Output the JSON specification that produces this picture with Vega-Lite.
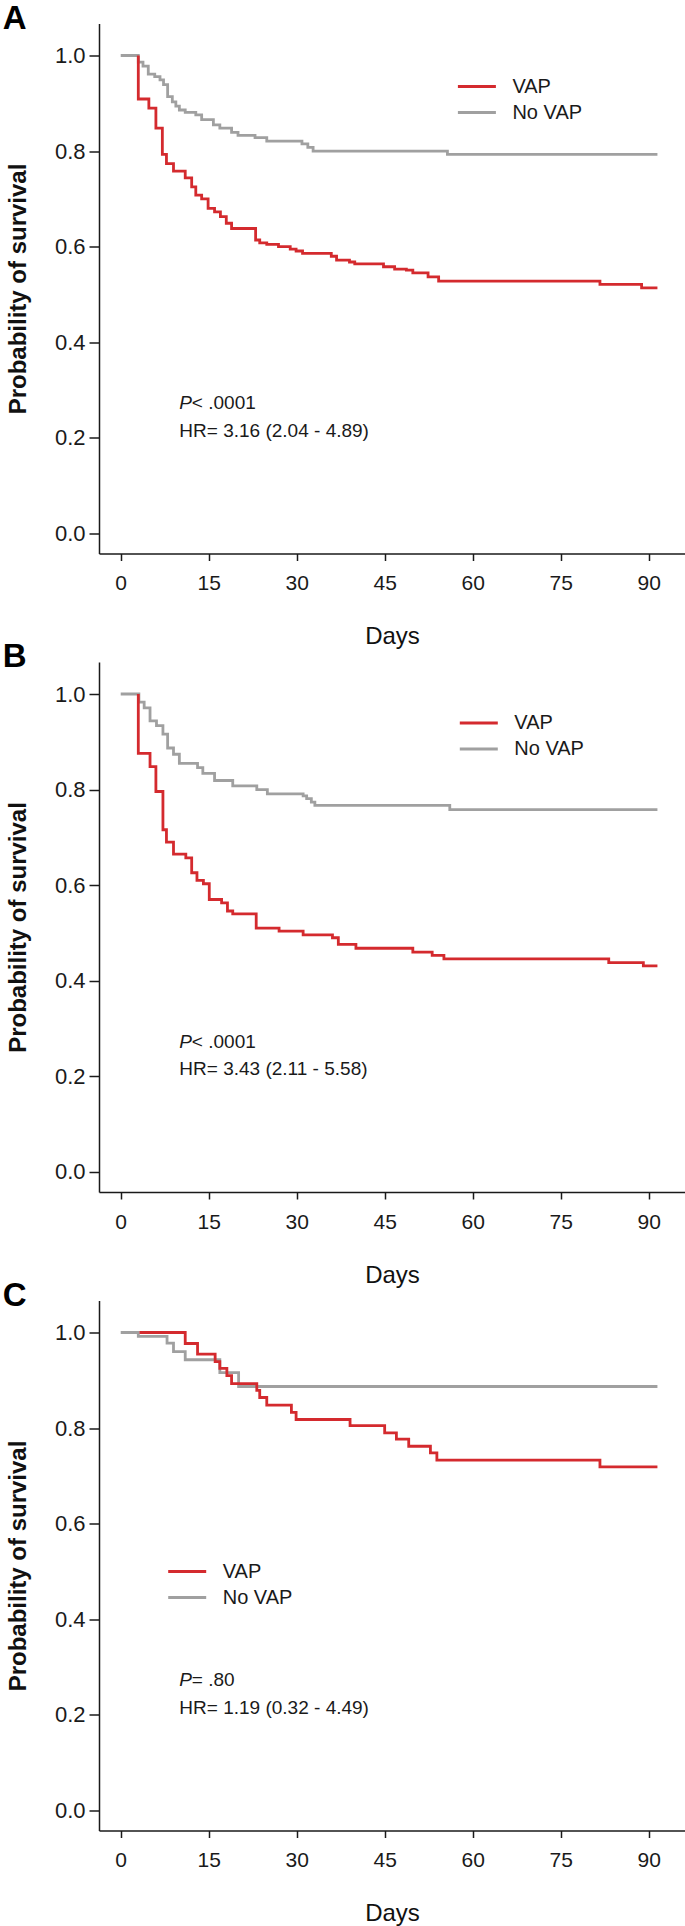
{
  "$schema": "https://vega.github.io/schema/vega-lite/v6.json",
  "padding": {"left": 2, "top": 2.5, "right": 2, "bottom": 0},
  "bounds": "flush",
  "spacing": 108.5,
  "config": {
    "font": "Liberation Sans",
    "view": {"stroke": null},
    "axis": {"grid": false, "domainColor": "#1a1a1a", "domainWidth": 1.5, "tickColor": "#1a1a1a", "tickWidth": 1.5, "labelFontSize": 21, "labelColor": "#1a1a1a", "labelFont": "Liberation Sans", "titleFont": "Liberation Sans", "titleColor": "#111111"},
    "axisX": {"tickSize": 7, "labelPadding": 12, "titleFontSize": 24, "titleFontWeight": "normal", "titlePadding": 31},
    "axisY": {"tickSize": 10, "labelPadding": 4, "labelFontSize": 22, "titleFontSize": 24, "titleFontWeight": "bold", "titlePadding": 23.6},
    "legend": {"symbolType": "M-1.9,0H1.9", "symbolSize": 400, "symbolStrokeWidth": 3, "labelFontSize": 20, "labelFont": "Liberation Sans", "labelColor": "#1a1a1a", "labelOffset": 24, "rowPadding": 4, "padding": 0},
    "title": {"fontSize": 33, "fontWeight": "bold", "anchor": "start", "frame": "bounds", "offset": -12, "dx": -4, "color": "#000000", "font": "Liberation Sans"}
  },
  "datasets": {
    "km": [
      {"panel": "A", "group": "No VAP", "day": 0, "surv": 1.0},
      {"panel": "A", "group": "No VAP", "day": 3.0, "surv": 0.986},
      {"panel": "A", "group": "No VAP", "day": 3.8, "surv": 0.978},
      {"panel": "A", "group": "No VAP", "day": 4.7, "surv": 0.961},
      {"panel": "A", "group": "No VAP", "day": 5.8, "surv": 0.956},
      {"panel": "A", "group": "No VAP", "day": 6.7, "surv": 0.949},
      {"panel": "A", "group": "No VAP", "day": 7.3, "surv": 0.939},
      {"panel": "A", "group": "No VAP", "day": 8.0, "surv": 0.914},
      {"panel": "A", "group": "No VAP", "day": 8.8, "surv": 0.903},
      {"panel": "A", "group": "No VAP", "day": 9.4, "surv": 0.894},
      {"panel": "A", "group": "No VAP", "day": 10.0, "surv": 0.886},
      {"panel": "A", "group": "No VAP", "day": 11.0, "surv": 0.881},
      {"panel": "A", "group": "No VAP", "day": 12.8, "surv": 0.876},
      {"panel": "A", "group": "No VAP", "day": 13.8, "surv": 0.866},
      {"panel": "A", "group": "No VAP", "day": 15.8, "surv": 0.855},
      {"panel": "A", "group": "No VAP", "day": 16.9, "surv": 0.848},
      {"panel": "A", "group": "No VAP", "day": 18.9, "surv": 0.839},
      {"panel": "A", "group": "No VAP", "day": 20.0, "surv": 0.833},
      {"panel": "A", "group": "No VAP", "day": 22.9, "surv": 0.828},
      {"panel": "A", "group": "No VAP", "day": 24.9, "surv": 0.821},
      {"panel": "A", "group": "No VAP", "day": 30.9, "surv": 0.815},
      {"panel": "A", "group": "No VAP", "day": 31.9, "surv": 0.808},
      {"panel": "A", "group": "No VAP", "day": 32.8, "surv": 0.8},
      {"panel": "A", "group": "No VAP", "day": 55.7, "surv": 0.793},
      {"panel": "A", "group": "No VAP", "day": 91.5, "surv": 0.793},
      {"panel": "A", "group": "VAP", "day": 3.0, "surv": 1.0},
      {"panel": "A", "group": "VAP", "day": 3.0, "surv": 0.909},
      {"panel": "A", "group": "VAP", "day": 4.8, "surv": 0.89},
      {"panel": "A", "group": "VAP", "day": 6.0, "surv": 0.848},
      {"panel": "A", "group": "VAP", "day": 7.1, "surv": 0.793},
      {"panel": "A", "group": "VAP", "day": 7.8, "surv": 0.774},
      {"panel": "A", "group": "VAP", "day": 9.0, "surv": 0.758},
      {"panel": "A", "group": "VAP", "day": 11.0, "surv": 0.744},
      {"panel": "A", "group": "VAP", "day": 12.1, "surv": 0.725},
      {"panel": "A", "group": "VAP", "day": 12.8, "surv": 0.708},
      {"panel": "A", "group": "VAP", "day": 13.8, "surv": 0.7},
      {"panel": "A", "group": "VAP", "day": 14.9, "surv": 0.68},
      {"panel": "A", "group": "VAP", "day": 16.0, "surv": 0.673},
      {"panel": "A", "group": "VAP", "day": 17.0, "surv": 0.663},
      {"panel": "A", "group": "VAP", "day": 18.0, "surv": 0.649},
      {"panel": "A", "group": "VAP", "day": 18.9, "surv": 0.638},
      {"panel": "A", "group": "VAP", "day": 23.0, "surv": 0.614},
      {"panel": "A", "group": "VAP", "day": 23.7, "surv": 0.608},
      {"panel": "A", "group": "VAP", "day": 24.9, "surv": 0.605},
      {"panel": "A", "group": "VAP", "day": 26.9, "surv": 0.6},
      {"panel": "A", "group": "VAP", "day": 28.9, "surv": 0.595},
      {"panel": "A", "group": "VAP", "day": 29.9, "surv": 0.591},
      {"panel": "A", "group": "VAP", "day": 31.0, "surv": 0.586},
      {"panel": "A", "group": "VAP", "day": 35.9, "surv": 0.58},
      {"panel": "A", "group": "VAP", "day": 36.8, "surv": 0.572},
      {"panel": "A", "group": "VAP", "day": 39.0, "surv": 0.568},
      {"panel": "A", "group": "VAP", "day": 39.9, "surv": 0.564},
      {"panel": "A", "group": "VAP", "day": 44.8, "surv": 0.558},
      {"panel": "A", "group": "VAP", "day": 46.7, "surv": 0.553},
      {"panel": "A", "group": "VAP", "day": 48.7, "surv": 0.551},
      {"panel": "A", "group": "VAP", "day": 49.8, "surv": 0.545},
      {"panel": "A", "group": "VAP", "day": 52.4, "surv": 0.537},
      {"panel": "A", "group": "VAP", "day": 54.2, "surv": 0.528},
      {"panel": "A", "group": "VAP", "day": 81.7, "surv": 0.521},
      {"panel": "A", "group": "VAP", "day": 88.8, "surv": 0.514},
      {"panel": "A", "group": "VAP", "day": 91.5, "surv": 0.514},
      {"panel": "B", "group": "No VAP", "day": 0, "surv": 1.0},
      {"panel": "B", "group": "No VAP", "day": 3.1, "surv": 0.983},
      {"panel": "B", "group": "No VAP", "day": 4.0, "surv": 0.971},
      {"panel": "B", "group": "No VAP", "day": 5.0, "surv": 0.944},
      {"panel": "B", "group": "No VAP", "day": 6.1, "surv": 0.934},
      {"panel": "B", "group": "No VAP", "day": 7.2, "surv": 0.916},
      {"panel": "B", "group": "No VAP", "day": 8.0, "surv": 0.887},
      {"panel": "B", "group": "No VAP", "day": 9.0, "surv": 0.874},
      {"panel": "B", "group": "No VAP", "day": 10.0, "surv": 0.855},
      {"panel": "B", "group": "No VAP", "day": 13.1, "surv": 0.846},
      {"panel": "B", "group": "No VAP", "day": 14.0, "surv": 0.834},
      {"panel": "B", "group": "No VAP", "day": 16.0, "surv": 0.819},
      {"panel": "B", "group": "No VAP", "day": 19.1, "surv": 0.808},
      {"panel": "B", "group": "No VAP", "day": 23.2, "surv": 0.8},
      {"panel": "B", "group": "No VAP", "day": 25.0, "surv": 0.791},
      {"panel": "B", "group": "No VAP", "day": 31.1, "surv": 0.787},
      {"panel": "B", "group": "No VAP", "day": 31.7, "surv": 0.781},
      {"panel": "B", "group": "No VAP", "day": 32.5, "surv": 0.774},
      {"panel": "B", "group": "No VAP", "day": 33.1, "surv": 0.767},
      {"panel": "B", "group": "No VAP", "day": 56.1, "surv": 0.758},
      {"panel": "B", "group": "No VAP", "day": 91.5, "surv": 0.758},
      {"panel": "B", "group": "VAP", "day": 3.0, "surv": 1.0},
      {"panel": "B", "group": "VAP", "day": 3.0, "surv": 0.876},
      {"panel": "B", "group": "VAP", "day": 5.0, "surv": 0.848},
      {"panel": "B", "group": "VAP", "day": 6.0, "surv": 0.796},
      {"panel": "B", "group": "VAP", "day": 7.2, "surv": 0.716},
      {"panel": "B", "group": "VAP", "day": 7.8, "surv": 0.69},
      {"panel": "B", "group": "VAP", "day": 9.0, "surv": 0.665},
      {"panel": "B", "group": "VAP", "day": 11.1, "surv": 0.657},
      {"panel": "B", "group": "VAP", "day": 12.1, "surv": 0.626},
      {"panel": "B", "group": "VAP", "day": 13.0, "surv": 0.61},
      {"panel": "B", "group": "VAP", "day": 14.1, "surv": 0.603},
      {"panel": "B", "group": "VAP", "day": 15.1, "surv": 0.57},
      {"panel": "B", "group": "VAP", "day": 17.2, "surv": 0.563},
      {"panel": "B", "group": "VAP", "day": 18.2, "surv": 0.546},
      {"panel": "B", "group": "VAP", "day": 19.1, "surv": 0.54},
      {"panel": "B", "group": "VAP", "day": 23.1, "surv": 0.51},
      {"panel": "B", "group": "VAP", "day": 27.0, "surv": 0.504},
      {"panel": "B", "group": "VAP", "day": 31.1, "surv": 0.496},
      {"panel": "B", "group": "VAP", "day": 36.1, "surv": 0.49},
      {"panel": "B", "group": "VAP", "day": 37.1, "surv": 0.476},
      {"panel": "B", "group": "VAP", "day": 40.1, "surv": 0.468},
      {"panel": "B", "group": "VAP", "day": 49.8, "surv": 0.46},
      {"panel": "B", "group": "VAP", "day": 53.1, "surv": 0.453},
      {"panel": "B", "group": "VAP", "day": 55.1, "surv": 0.446},
      {"panel": "B", "group": "VAP", "day": 83.2, "surv": 0.438},
      {"panel": "B", "group": "VAP", "day": 89.1, "surv": 0.431},
      {"panel": "B", "group": "VAP", "day": 91.5, "surv": 0.431},
      {"panel": "C", "group": "No VAP", "day": 0, "surv": 1.0},
      {"panel": "C", "group": "No VAP", "day": 3.0, "surv": 0.992},
      {"panel": "C", "group": "No VAP", "day": 7.9, "surv": 0.978},
      {"panel": "C", "group": "No VAP", "day": 9.0, "surv": 0.96},
      {"panel": "C", "group": "No VAP", "day": 11.0, "surv": 0.943},
      {"panel": "C", "group": "No VAP", "day": 16.9, "surv": 0.916},
      {"panel": "C", "group": "No VAP", "day": 20.1, "surv": 0.887},
      {"panel": "C", "group": "No VAP", "day": 91.5, "surv": 0.887},
      {"panel": "C", "group": "VAP", "day": 3.2, "surv": 1.0},
      {"panel": "C", "group": "VAP", "day": 11.0, "surv": 0.977},
      {"panel": "C", "group": "VAP", "day": 13.1, "surv": 0.955},
      {"panel": "C", "group": "VAP", "day": 16.1, "surv": 0.939},
      {"panel": "C", "group": "VAP", "day": 16.9, "surv": 0.925},
      {"panel": "C", "group": "VAP", "day": 18.1, "surv": 0.91},
      {"panel": "C", "group": "VAP", "day": 18.9, "surv": 0.893},
      {"panel": "C", "group": "VAP", "day": 23.2, "surv": 0.879},
      {"panel": "C", "group": "VAP", "day": 23.7, "surv": 0.864},
      {"panel": "C", "group": "VAP", "day": 24.9, "surv": 0.848},
      {"panel": "C", "group": "VAP", "day": 29.1, "surv": 0.833},
      {"panel": "C", "group": "VAP", "day": 29.9, "surv": 0.818},
      {"panel": "C", "group": "VAP", "day": 39.1, "surv": 0.805},
      {"panel": "C", "group": "VAP", "day": 45.0, "surv": 0.79},
      {"panel": "C", "group": "VAP", "day": 47.0, "surv": 0.777},
      {"panel": "C", "group": "VAP", "day": 49.1, "surv": 0.762},
      {"panel": "C", "group": "VAP", "day": 52.8, "surv": 0.748},
      {"panel": "C", "group": "VAP", "day": 53.9, "surv": 0.733},
      {"panel": "C", "group": "VAP", "day": 81.7, "surv": 0.719},
      {"panel": "C", "group": "VAP", "day": 91.5, "surv": 0.719}
    ],
    "notes": [
      {"panel": "A", "p": "< .0001", "hr": "HR= 3.16 (2.04 - 4.89)"},
      {"panel": "B", "p": "< .0001", "hr": "HR= 3.43 (2.11 - 5.58)"},
      {"panel": "C", "p": "= .80", "hr": "HR= 1.19 (0.32 - 4.49)"}
    ]
  },
  "resolve": {"scale": {"color": "independent"}, "legend": {"color": "independent"}},
  "vconcat": [
    {
      "width": 586, "height": 530,
      "title": {"text": "A"},
      "layer": [
        {
          "data": {"name": "km"},
          "transform": [{"filter": "datum.panel === 'A'"}],
          "mark": {"type": "line", "interpolate": "step-after", "strokeWidth": 2.8},
          "encoding": {
            "x": {"field": "day", "type": "quantitative", "title": "Days", "scale": {"domain": [-3.7, 96.2], "nice": false, "zero": false}, "axis": {"values": [0, 15, 30, 45, 60, 75, 90]}},
            "y": {"field": "surv", "type": "quantitative", "title": "Probability of survival", "scale": {"domain": [-0.042, 1.067], "nice": false, "zero": false}, "axis": {"values": [0, 0.2, 0.4, 0.6, 0.8, 1.0], "format": ".1f"}},
            "color": {"field": "group", "type": "nominal", "scale": {"domain": ["VAP", "No VAP"], "range": ["#d42a2e", "#a0a0a0"]}, "legend": {"title": null, "orient": "none", "legendX": 366.4, "legendY": 51.5}}
          }
        },
        {
          "data": {"name": "notes"},
          "transform": [{"filter": "datum.panel === 'A'"}],
          "mark": {"type": "text", "align": "left", "baseline": "middle", "fontSize": 19, "fontStyle": "italic", "color": "#1a1a1a"},
          "encoding": {"x": {"datum": 10}, "y": {"datum": 0.272}, "text": {"value": "P"}}
        },
        {
          "data": {"name": "notes"},
          "transform": [{"filter": "datum.panel === 'A'"}],
          "mark": {"type": "text", "align": "left", "baseline": "middle", "fontSize": 19, "dx": 12.5, "color": "#1a1a1a"},
          "encoding": {"x": {"datum": 10}, "y": {"datum": 0.272}, "text": {"field": "p"}}
        },
        {
          "data": {"name": "notes"},
          "transform": [{"filter": "datum.panel === 'A'"}],
          "mark": {"type": "text", "align": "left", "baseline": "middle", "fontSize": 19, "color": "#1a1a1a"},
          "encoding": {"x": {"datum": 10}, "y": {"datum": 0.215}, "text": {"field": "hr"}}
        }
      ]
    },
    {
      "width": 586, "height": 530,
      "title": {"text": "B"},
      "layer": [
        {
          "data": {"name": "km"},
          "transform": [{"filter": "datum.panel === 'B'"}],
          "mark": {"type": "line", "interpolate": "step-after", "strokeWidth": 2.8},
          "encoding": {
            "x": {"field": "day", "type": "quantitative", "title": "Days", "scale": {"domain": [-3.7, 96.2], "nice": false, "zero": false}, "axis": {"values": [0, 15, 30, 45, 60, 75, 90]}},
            "y": {"field": "surv", "type": "quantitative", "title": "Probability of survival", "scale": {"domain": [-0.042, 1.067], "nice": false, "zero": false}, "axis": {"values": [0, 0.2, 0.4, 0.6, 0.8, 1.0], "format": ".1f"}},
            "color": {"field": "group", "type": "nominal", "scale": {"domain": ["VAP", "No VAP"], "range": ["#d42a2e", "#a0a0a0"]}, "legend": {"title": null, "orient": "none", "legendX": 368.3, "legendY": 49.5}}
          }
        },
        {
          "data": {"name": "notes"},
          "transform": [{"filter": "datum.panel === 'B'"}],
          "mark": {"type": "text", "align": "left", "baseline": "middle", "fontSize": 19, "fontStyle": "italic", "color": "#1a1a1a"},
          "encoding": {"x": {"datum": 10}, "y": {"datum": 0.272}, "text": {"value": "P"}}
        },
        {
          "data": {"name": "notes"},
          "transform": [{"filter": "datum.panel === 'B'"}],
          "mark": {"type": "text", "align": "left", "baseline": "middle", "fontSize": 19, "dx": 12.5, "color": "#1a1a1a"},
          "encoding": {"x": {"datum": 10}, "y": {"datum": 0.272}, "text": {"field": "p"}}
        },
        {
          "data": {"name": "notes"},
          "transform": [{"filter": "datum.panel === 'B'"}],
          "mark": {"type": "text", "align": "left", "baseline": "middle", "fontSize": 19, "color": "#1a1a1a"},
          "encoding": {"x": {"datum": 10}, "y": {"datum": 0.215}, "text": {"field": "hr"}}
        }
      ]
    },
    {
      "width": 586, "height": 530,
      "title": {"text": "C"},
      "layer": [
        {
          "data": {"name": "km"},
          "transform": [{"filter": "datum.panel === 'C'"}],
          "mark": {"type": "line", "interpolate": "step-after", "strokeWidth": 2.8},
          "encoding": {
            "x": {"field": "day", "type": "quantitative", "title": "Days", "scale": {"domain": [-3.7, 96.2], "nice": false, "zero": false}, "axis": {"values": [0, 15, 30, 45, 60, 75, 90]}},
            "y": {"field": "surv", "type": "quantitative", "title": "Probability of survival", "scale": {"domain": [-0.042, 1.067], "nice": false, "zero": false}, "axis": {"values": [0, 0.2, 0.4, 0.6, 0.8, 1.0], "format": ".1f"}},
            "color": {"field": "group", "type": "nominal", "scale": {"domain": ["VAP", "No VAP"], "range": ["#d42a2e", "#a0a0a0"]}, "legend": {"title": null, "orient": "none", "legendX": 76.7, "legendY": 259.5}}
          }
        },
        {
          "data": {"name": "notes"},
          "transform": [{"filter": "datum.panel === 'C'"}],
          "mark": {"type": "text", "align": "left", "baseline": "middle", "fontSize": 19, "fontStyle": "italic", "color": "#1a1a1a"},
          "encoding": {"x": {"datum": 10}, "y": {"datum": 0.272}, "text": {"value": "P"}}
        },
        {
          "data": {"name": "notes"},
          "transform": [{"filter": "datum.panel === 'C'"}],
          "mark": {"type": "text", "align": "left", "baseline": "middle", "fontSize": 19, "dx": 12.5, "color": "#1a1a1a"},
          "encoding": {"x": {"datum": 10}, "y": {"datum": 0.272}, "text": {"field": "p"}}
        },
        {
          "data": {"name": "notes"},
          "transform": [{"filter": "datum.panel === 'C'"}],
          "mark": {"type": "text", "align": "left", "baseline": "middle", "fontSize": 19, "color": "#1a1a1a"},
          "encoding": {"x": {"datum": 10}, "y": {"datum": 0.215}, "text": {"field": "hr"}}
        }
      ]
    }
  ]
}
